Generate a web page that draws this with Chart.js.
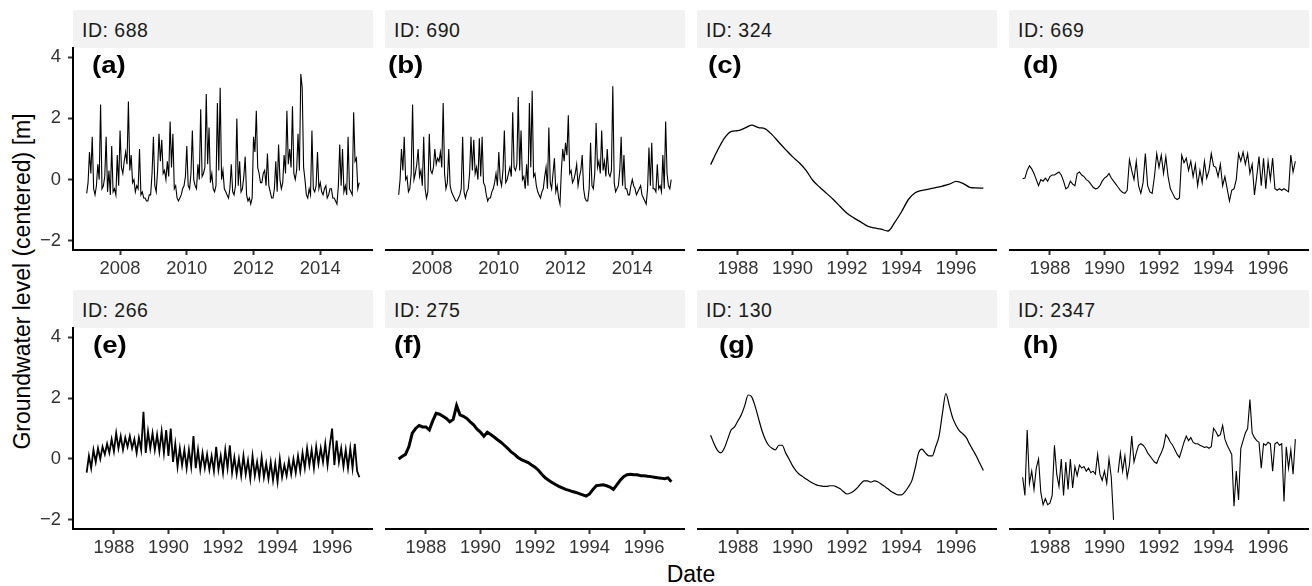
<!DOCTYPE html>
<html>
<head>
<meta charset="utf-8">
<script src="https://cdn.jsdelivr.net/npm/chart.js@4.4.1/dist/chart.umd.min.js"></script>
<style>
  body { margin: 0; width: 1312px; height: 586px; background: #fff; position: relative; overflow: hidden;
         font-family: "Liberation Sans", Arial, sans-serif; }
  .strip { position: absolute; width: 300px; height: 38px; background: #f2f2f2; color: #1a1a1a;
           font-size: 19.5px; letter-spacing: 0.5px; line-height: 40px; padding-left: 9px; box-sizing: border-box; }
  .tag { position: absolute; font-weight: bold; font-size: 23px; line-height: 23px; color: #000;
         transform: scaleX(1.2); transform-origin: left center; }
  .holder { position: absolute; }
  #ytitle { position: absolute; left: -178px; top: 270px; width: 400px; height: 23px; line-height: 23px;
            font-size: 23px; text-align: center; transform: rotate(-90deg); color: #000; }
  #xtitle { position: absolute; left: 591px; top: 563px; width: 200px; line-height: 23px;
            font-size: 23px; text-align: center; color: #000; }
</style>
</head>
<body>
<div id="ytitle">Groundwater level (centered) [m]</div>
<div id="xtitle">Date</div>

<script>
// --- DATA ---
const stripLabels = ['ID: 688', 'ID: 690', 'ID: 324', 'ID: 669', 'ID: 266', 'ID: 275', 'ID: 130', 'ID: 2347'];
const tagLabels = ['(a)', '(b)', '(c)', '(d)', '(e)', '(f)', '(g)', '(h)'];

const yTickValues = [-2, 0, 2, 4];
const yTickLabels = ['\u22122', '0', '2', '4'];
const ticks2000s = [2008, 2010, 2012, 2014];
const ticks2000sLabels = ['2008', '2010', '2012', '2014'];
const ticks1980s = [1988, 1990, 1992, 1994, 1996];
const ticks1980sLabels = ['1988', '1990', '1992', '1994', '1996'];

// half-monthly values from Jan 2007 (one row per year)
const level688 = [
  -0.45, -0.1, 0.9, 0.2, 1.4, -0.3, -0.5, -0.2, 0.5, 0.0, 2.45, -0.3, -0.2, 0.1, 1.4, -0.4, 0.3, -0.5, 1.1, -0.4, -0.3, -0.5, 0.8, -0.2,
  1.6, 0.4, 0.2, 0.6, 0.9, 0.5, 2.55, 0.3, 0.8, -0.1, 0.0, -0.4, -0.2, -0.3, 1.0, -0.5, -0.4, -0.6, -0.6, -0.7, -0.7, -0.5, -0.5, 0.2,
  1.4, -0.2, -0.4, 0.3, 1.5, 0.6, 1.3, 0.2, 0.3, 0.0, 0.6, 0.1, 1.9, 0.4, 1.5, -0.3, -0.2, -0.6, -0.7, -0.6, -0.5, -0.3, -0.2, 0.1,
  1.1, -0.2, -0.3, 0.2, 1.6, 0.0, -0.2, -0.3, 0.5, 0.0, 2.3, 0.1, 0.2, 0.4, 2.8, 0.5, 1.7, -0.1, 0.2, -0.3, -0.4, -0.2, 2.5, 0.3,
  3.0, 0.0, 0.3, -0.3, -0.4, -0.5, -0.6, -0.3, 0.5, -0.4, -0.5, -0.2, 2.0, -0.2, 0.6, -0.4, -0.3, 0.1, 0.75, -0.5, -0.7, -0.6, -0.8, -0.6,
  1.4, 0.9, 2.25, 0.4, 0.2, -0.1, -0.1, 0.2, 0.3, -0.2, 0.85, -0.2, -0.4, -0.6, -0.6, -0.3, 0.6, -0.4, 1.15, 0.0, -0.3, -0.1, 0.8, 0.2,
  2.25, 0.5, 1.0, 0.4, 2.4, 0.2, 0.0, 0.3, 1.5, 0.3, 3.45, 3.0, 0.4, 0.0, -0.5, -0.6, -0.3, -0.5, 1.6, -0.3, -0.4, -0.2, 0.9, -0.3,
  -0.1, -0.4, -0.5, -0.3, -0.2, -0.6, -0.5, -0.3, -0.3, -0.6, -0.6, -0.7, -0.8, -0.2, 1.15, -0.2, 1.0, -0.4, -0.2, -0.5, 1.4, -0.3, -0.4, -0.5,
  2.2, 0.6, 0.7, -0.3, -0.1
];
const level690 = [
  -0.5, 0.0, 1.0, 0.3, 1.4, 0.0, 0.1, -0.4, -0.3, 0.2, 2.45, 0.0, 0.2, 0.5, 1.0, 0.1, 0.3, -0.2, 1.4, -0.3, -0.6, -0.4, 1.5, 0.3,
  0.2, 0.4, 1.0, 0.5, 0.7, 0.6, 0.9, 0.4, 2.5, 0.2, -0.3, -0.1, 1.0, -0.2, -0.4, -0.5, -0.6, -0.7, -0.7, -0.6, -0.5, -0.3, 1.4, -0.4,
  -0.6, -0.4, -0.3, 0.2, 1.4, 0.3, 1.3, 0.2, 0.4, 0.0, 1.35, 0.1, 1.4, -0.1, -0.2, -0.5, -0.7, -0.6, -0.6, -0.4, -0.3, -0.1, 0.2, -0.2,
  0.9, 0.0, -0.2, 0.3, 1.6, -0.1, 0.0, 0.2, 0.4, 0.1, 2.2, 0.4, 0.3, 0.5, 2.7, 0.3, 1.6, 0.0, 0.1, -0.3, 0.5, -0.2, 2.5, 0.4,
  2.9, 0.1, 0.2, -0.2, -0.4, -0.5, -0.6, -0.4, -0.3, 0.1, 0.4, -0.3, 1.7, -0.1, -0.3, 0.2, 0.7, -0.4, -0.2, -0.6, -0.8, 0.3, 1.0, 0.6,
  1.2, 0.8, 2.1, 0.2, 0.3, -0.1, 0.0, 0.2, 0.5, -0.2, 0.1, 0.3, 0.8, -0.3, -0.6, -0.7, -0.7, -0.3, 1.2, -0.2, -0.3, 0.2, 1.85, 0.4,
  0.6, 0.2, 1.6, 0.3, 0.6, 0.1, 1.0, 0.2, 0.1, 0.3, 3.05, -0.1, -0.4, -0.3, -0.2, 0.3, 1.4, -0.2, 0.8, -0.3, -0.3, -0.5, -0.5, -0.2,
  0.0, -0.2, -0.3, -0.5, -0.4, -0.3, -0.2, -0.5, -0.6, -0.7, -0.8, -0.3, 1.05, -0.2, 1.2, -0.3, -0.3, -0.4, 0.5, -0.3, -0.2, -0.4, 0.8, -0.3,
  1.9, 0.2, -0.2, -0.3, 0.0
];
// quarterly values from 1987
const level324 = [
  0.49, 0.95, 1.35, 1.57, 1.6, 1.68, 1.78, 1.7, 1.66, 1.47, 1.22, 0.98,
  0.75, 0.55, 0.3, -0.03, -0.25, -0.45, -0.65, -0.88, -1.1, -1.25, -1.38, -1.52,
  -1.58, -1.62, -1.68, -1.4, -1.05, -0.65, -0.43, -0.35, -0.31, -0.26, -0.21, -0.15,
  -0.06, -0.12, -0.25, -0.27, -0.28
];
// monthly values from 1987
const level669 = [
  0.03, 0.05, 0.3, 0.45, 0.35, 0.2, 0.0, -0.2, 0.0, -0.05, 0.05, -0.05,
  0.1, 0.15, 0.15, 0.2, 0.25, 0.15, -0.05, -0.3, -0.25, -0.05, -0.15, -0.2,
  0.2, 0.25, 0.15, 0.1, 0.0, -0.05, -0.15, -0.25, -0.3, -0.28, -0.2, -0.05,
  0.05, 0.1, 0.2, 0.05, -0.05, -0.15, -0.25, -0.35, -0.42, -0.45, -0.35, 0.65,
  0.3, 0.0, 0.6, -0.2, -0.45, -0.1, 0.85, -0.2, -0.4, -0.45, 0.1, 0.85,
  0.4, 0.8, 0.2, 0.75, 0.1, -0.3, -0.45, -0.6, -0.65, -0.6, 0.8, 0.55,
  0.7, 0.3, 0.6, 0.1, 0.5, -0.2, 0.3, -0.1, 0.6, 0.05, 0.3, 0.85,
  0.45, 0.4, 0.1, 0.5, -0.2, 0.1, -0.3, -0.7, -0.35, -0.3, 0.0, 0.85,
  0.6, 0.9, 0.5, 0.85, 0.2, 0.5, -0.5, 0.1, 0.75, -0.2, 0.7, -0.3,
  0.6, 0.0, 0.7, -0.3, -0.35, -0.3, -0.35, -0.3, -0.35, -0.4, 0.8, 0.25,
  0.6
];
const level266 = [
  -0.45, 0.1, -0.3, 0.3, -0.1, 0.35, 0.0, 0.4, 0.15, 0.5, 0.2, 0.65,
  0.25, 0.85, 0.35, 0.75, 0.3, 0.7, 0.4, 0.75, 0.35, 0.65, 0.2, 0.7,
  0.3, 1.55, 0.2, 0.9, 0.35, 0.85, 0.3, 0.8, 0.25, 0.9, 0.2, 0.95,
  0.1, 1.0, -0.1, 0.5, -0.25, 0.35, -0.2, 0.3, -0.3, 0.3, -0.25, 0.75,
  -0.3, 0.3, -0.35, 0.2, -0.3, 0.15, -0.35, 0.1, -0.4, 0.4, -0.35, 0.1,
  -0.45, 0.3, -0.3, 0.45, -0.45, 0.05, -0.5, 0.0, -0.55, 0.1, -0.5, -0.05,
  -0.65, 0.1, -0.55, -0.1, -0.6, 0.05, -0.6, -0.15, -0.65, -0.1, -0.7, -0.15,
  -0.75, 0.0, -0.6, -0.2, -0.55, -0.05, -0.5, 0.0, -0.45, 0.1, -0.4, 0.2,
  -0.3, 0.35, -0.2, 0.3, -0.3, 0.4, -0.15, 0.35, -0.1, 0.5, -0.2, 0.45,
  1.0, -0.2, 0.6, -0.1, 0.35, -0.25, 0.3, -0.3, 0.35, -0.3, 0.5, -0.4,
  -0.6
];
// eighth-of-a-year values from 1987
const level275 = [
  0.0, 0.08, 0.15, 0.4, 0.85, 1.0, 1.1, 1.05, 1.05, 0.95, 1.25, 1.5,
  1.47, 1.4, 1.33, 1.22, 1.3, 1.75, 1.45, 1.4, 1.33, 1.22, 1.12, 0.98,
  0.88, 0.75, 0.88, 0.8, 0.72, 0.63, 0.55, 0.45, 0.35, 0.23, 0.15, 0.05,
  -0.02, -0.07, -0.12, -0.2, -0.27, -0.37, -0.5, -0.62, -0.7, -0.77, -0.84, -0.9,
  -0.95, -1.0, -1.03, -1.07, -1.1, -1.14, -1.18, -1.22, -1.15, -1.0, -0.88, -0.86,
  -0.85, -0.88, -0.92, -1.0, -0.85, -0.7, -0.58, -0.52, -0.5, -0.52, -0.52, -0.55,
  -0.55, -0.57, -0.58, -0.6, -0.62, -0.63, -0.65, -0.62, -0.75
];
const level130 = [
  0.78, 0.5, 0.28, 0.2, 0.35, 0.65, 0.95, 1.05, 1.25, 1.45, 1.75, 2.1,
  2.05, 1.75, 1.35, 0.95, 0.65, 0.45, 0.35, 0.3, 0.45, 0.45, 0.2, 0.0,
  -0.22, -0.38, -0.5, -0.58, -0.66, -0.73, -0.8, -0.85, -0.88, -0.9, -0.9, -0.88,
  -0.88, -0.92, -0.98, -1.08, -1.15, -1.12, -1.05, -0.95, -0.82, -0.72, -0.72, -0.76,
  -0.72, -0.75, -0.82, -0.9, -0.98, -1.07, -1.13, -1.18, -1.18, -1.08, -0.92, -0.72,
  -0.3, 0.2, 0.32, 0.2, 0.1, 0.1, 0.4, 0.75, 1.5, 2.15, 1.75, 1.35,
  1.1, 0.92, 0.82, 0.7, 0.48, 0.28, 0.08, -0.15, -0.38
];
// monthly values from 1987, null = missing record
const level2347 = [
  -0.6, -1.2, 0.95, -0.8, -0.4, -1.0, -0.3, 0.0, -1.1, -1.5, -1.3, -1.5,
  -1.45, -1.2, 0.45, -0.5, -0.9, 0.0, -1.2, -0.1, -1.0, 0.0, -0.95, -0.25,
  -0.55, -0.2, -0.3, -0.25, -0.4, -0.3, -0.45, -0.4, -0.5, 0.15, -0.5, -0.7,
  -0.4, -0.8, 0.0, -0.6, -2.0, null, -0.45, 0.2, -0.4, 0.1, -0.6, -0.2,
  0.75, -0.1, 0.2, 0.45, 0.5, 0.45, 0.35, 0.2, 0.1, 0.0, -0.1, -0.15,
  0.05, 0.2, 0.4, 0.8, 0.7, 0.55, 0.45, 0.3, 0.15, 0.05, 0.3, 0.55,
  0.75, 0.6, 0.7, 0.55, 0.5, 0.5, 0.45, 0.42, 0.38, 0.4, 0.35, 0.4,
  1.0, 0.9, 0.75, 0.8, 1.1, 0.65, 0.45, 0.3, 0.15, -1.55, -0.4, -1.35,
  0.35, 0.6, 0.85, 1.0, 1.95, 0.85, 0.7, 0.6, 0.55, -0.3, 0.5, 0.45,
  0.55, 0.5, -0.4, 0.5, 0.55, 0.45, 0.5, -1.4, 0.4, -0.3, 0.3, -0.5,
  0.65
];

// --- LAYOUT ---
const colLeft = [73, 385, 697, 1009];
const plotTop = [48, 328];
const plotHeight = [202, 201];
const stripTop = [10, 290];
const tagOffset = [19, 3, 11, 14, 20, 9, 22, 14];
const PLOT_W = 300, PAD_TOP = 20, XAXIS_H = 40, YAXIS_W = 73;

Chart.defaults.font.family = "'Liberation Sans', Arial, sans-serif";
Chart.defaults.animation = false;

const panels = [
  { values: level688,  start: 2007, step: 1 / 24, xmin: 2006.59, xmax: 2015.58, ticks: ticks2000s, labels: ticks2000sLabels, width: 1.1 },
  { values: level690,  start: 2007, step: 1 / 24, xmin: 2006.59, xmax: 2015.58, ticks: ticks2000s, labels: ticks2000sLabels, width: 1.1 },
  { values: level324,  start: 1987, step: 1 / 4,  xmin: 1986.5, xmax: 1997.5, ticks: ticks1980s, labels: ticks1980sLabels, width: 1.3, smooth: true },
  { values: level669,  start: 1987, step: 1 / 12, xmin: 1986.5, xmax: 1997.5, ticks: ticks1980s, labels: ticks1980sLabels, width: 1.1 },
  { values: level266,  start: 1987, step: 1 / 12, xmin: 1986.5, xmax: 1997.5, ticks: ticks1980s, labels: ticks1980sLabels, width: 1.8 },
  { values: level275,  start: 1987, step: 1 / 8,  xmin: 1986.5, xmax: 1997.5, ticks: ticks1980s, labels: ticks1980sLabels, width: 3 },
  { values: level130,  start: 1987, step: 1 / 8,  xmin: 1986.5, xmax: 1997.5, ticks: ticks1980s, labels: ticks1980sLabels, width: 1.2, smooth: true },
  { values: level2347, start: 1987, step: 1 / 12, xmin: 1986.5, xmax: 1997.5, ticks: ticks1980s, labels: ticks1980sLabels, width: 1.1 }
];

const tickFont = { family: "'Liberation Sans', Arial, sans-serif", size: 18.4 };

function addDiv(cls, text, left, top) {
  const d = document.createElement('div');
  d.className = cls;
  d.textContent = text;
  d.style.left = left + 'px';
  d.style.top = top + 'px';
  document.body.appendChild(d);
  return d;
}

panels.forEach((p, k) => {
  const col = k % 4, row = Math.floor(k / 4);
  const withY = col === 0;

  addDiv('strip', stripLabels[k], colLeft[col], stripTop[row]);

  const holder = document.createElement('div');
  holder.className = 'holder';
  const w = withY ? colLeft[0] + PLOT_W : PLOT_W;
  const h = plotHeight[row] + PAD_TOP + XAXIS_H;
  holder.style.left = (withY ? 0 : colLeft[col]) + 'px';
  holder.style.top = (plotTop[row] - PAD_TOP) + 'px';
  holder.style.width = w + 'px';
  holder.style.height = h + 'px';
  const canvas = document.createElement('canvas');
  canvas.width = w;
  canvas.height = h;
  holder.appendChild(canvas);
  document.body.appendChild(holder);

  new Chart(canvas.getContext('2d'), {
    type: 'line',
    data: {
      datasets: [{
        data: p.values.map((v, i) => ({ x: p.start + i * p.step, y: v })),
        borderColor: '#000',
        borderWidth: p.width,
        pointRadius: 0,
        spanGaps: false,
        cubicInterpolationMode: p.smooth ? 'monotone' : 'default',
        tension: 0
      }]
    },
    options: {
      responsive: false,
      devicePixelRatio: 1,
      layout: { padding: { top: PAD_TOP, left: 0, right: 0, bottom: 0 } },
      plugins: { legend: { display: false }, tooltip: { enabled: false } },
      events: [],
      scales: {
        x: {
          type: 'linear',
          min: p.xmin,
          max: p.xmax,
          afterBuildTicks: s => { s.ticks = p.ticks.map(v => ({ value: v })); },
          afterFit: s => { s.height = XAXIS_H; },
          grid: { display: true, drawOnChartArea: false, drawTicks: true, tickLength: 5, tickWidth: 2, tickColor: '#333333' },
          border: { display: true, color: '#000', width: 2 },
          ticks: { color: '#333333', font: tickFont, padding: 3, maxRotation: 0, autoSkip: false,
                   callback: (v, i) => p.labels[i] }
        },
        y: withY ? {
          min: -2.3,
          max: 4.3,
          afterBuildTicks: s => { s.ticks = yTickValues.map(v => ({ value: v })); },
          afterFit: s => { s.width = YAXIS_W; },
          grid: { display: true, drawOnChartArea: false, drawTicks: true, tickLength: 5, tickWidth: 2, tickColor: '#333333' },
          border: { display: true, color: '#000', width: 2 },
          ticks: { color: '#333333', font: tickFont, padding: 7, autoSkip: false,
                   callback: (v, i) => yTickLabels[i] }
        } : { min: -2.3, max: 4.3, display: false }
      }
    }
  });

  addDiv('tag', tagLabels[k], colLeft[col] + tagOffset[k], plotTop[row] + 6);
});
</script>
</body>
</html>
